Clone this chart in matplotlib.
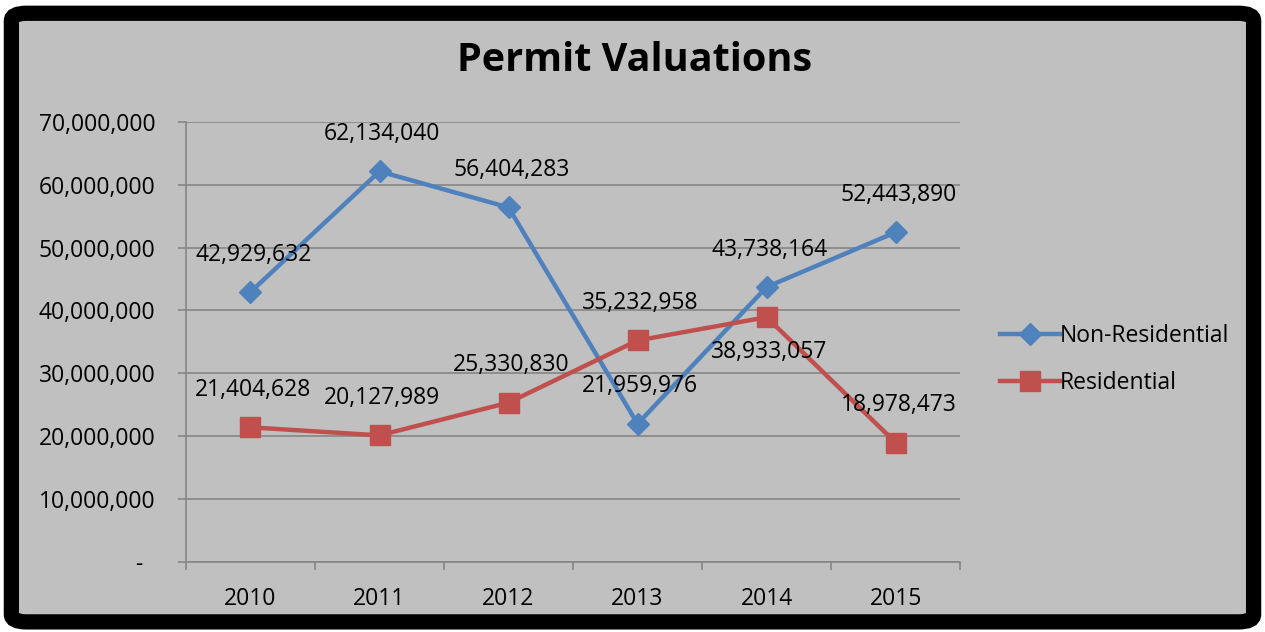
import matplotlib.pyplot as plt
from matplotlib.patches import FancyBboxPatch
from matplotlib.ticker import FuncFormatter

years = ["2010", "2011", "2012", "2013", "2014", "2015"]
non_residential = [42929632, 62134040, 56404283, 21959976, 43738164, 52443890]
residential = [21404628, 20127989, 25330830, 35232958, 38933057, 18978473]

# label offsets in points (above = positive)
non_res_offsets = [27, 27, 27, 27, 27, 27]
res_offsets = [27, 27, 27, 27, -25, 27]

plt.rcParams['font.family'] = ['Open Sans', 'DejaVu Sans']

fig = plt.figure(figsize=(12.65, 6.32), dpi=100, facecolor="white")

# rounded black frame
frame = FancyBboxPatch((0.009, 0.016), 0.982, 0.963,
                       boxstyle="round,pad=0,rounding_size=0.012",
                       transform=fig.transFigure, facecolor="#C0C0C0",
                       edgecolor="black", linewidth=11, zorder=-10)
fig.patches.append(frame)

ax = fig.add_axes([0.147, 0.111, 0.612, 0.696])
ax.set_zorder(5)
ax.set_facecolor("none")

x = range(len(years))
ax.plot(x, non_residential, color="#4F81BD", lw=3.2, marker="D", ms=11,
        label="Non-Residential", zorder=3)
ax.plot(x, residential, color="#C0504D", lw=3.2, marker="s", ms=14,
        label="Residential", zorder=3)

for i, v in enumerate(non_residential):
    ax.annotate(f"{v:,}", (i, v), xytext=(2, non_res_offsets[i]),
                textcoords="offset points", ha="center", va="center", fontsize=16.5)
for i, v in enumerate(residential):
    ax.annotate(f"{v:,}", (i, v), xytext=(2, res_offsets[i]),
                textcoords="offset points", ha="center", va="center", fontsize=16.5)

ax.set_xlim(-0.5, 5.5)
ax.set_ylim(0, 70000000)
ax.set_yticks(range(0, 70000001, 10000000))
ax.yaxis.set_major_formatter(FuncFormatter(lambda v, p: "-  " if v == 0 else f"{int(v):,}"))
ax.set_xticks(list(x))
ax.set_xticklabels(years)
ax.set_xticks([i - 0.5 for i in range(7)], minor=True)
ax.tick_params(axis="x", which="major", length=0, pad=18, labelsize=16.5)
ax.tick_params(axis="x", which="minor", length=6, color="#868686", width=1.2)
ax.tick_params(axis="y", length=6, color="#868686", width=1.2, labelsize=16.5, pad=16)
ax.grid(axis="y", color="#868686", lw=1.2)
ax.set_axisbelow(True)
for s in ["top", "right"]:
    ax.spines[s].set_visible(False)
for s in ["left", "bottom"]:
    ax.spines[s].set_color("#868686")
    ax.spines[s].set_linewidth(1.2)

fig.text(0.502, 0.904, "Permit Valuations", ha="center", va="center",
         fontsize=28.5, fontweight="bold")

ax.legend(loc="center left", bbox_to_anchor=(1.025, 0.461), frameon=False,
          fontsize=16.5, handlelength=2.6, handletextpad=0.0, labelspacing=1.0)

fig.savefig("out.png", dpi=100, facecolor="white")
